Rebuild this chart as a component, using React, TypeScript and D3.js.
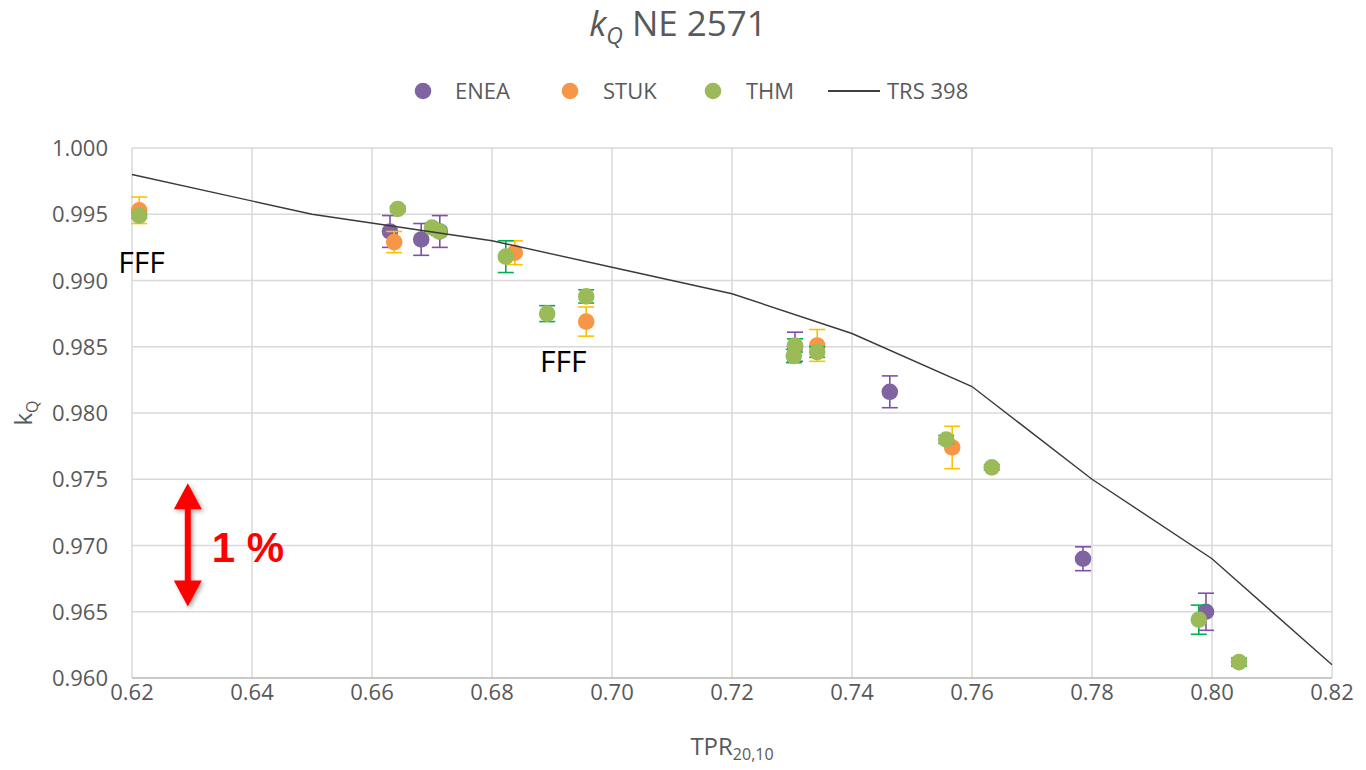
import React from "react";
import * as d3 from "d3";

// TPR20,10 / kQ readings per lab
const eneaX = [0.663, 0.6682, 0.6713, 0.7305, 0.7463, 0.7785, 0.799];
const eneaY = [0.9937, 0.9931, 0.9937, 0.985, 0.9816, 0.969, 0.965];
const eneaErr = [0.0012, 0.0012, 0.0012, 0.0011, 0.0012, 0.0009, 0.0014];

const stukX = [0.6212, 0.6637, 0.6838, 0.6957, 0.7342, 0.7567];
const stukY = [0.9953, 0.9929, 0.9921, 0.9869, 0.9851, 0.9774];
const stukErr = [0.001, 0.0008, 0.0009, 0.0011, 0.0012, 0.0016];

const thmX = [0.6212, 0.6643, 0.67, 0.6712, 0.6823, 0.6892, 0.6957, 0.7305, 0.7303, 0.7342, 0.7557, 0.7633, 0.7978, 0.8045];
const thmY = [0.9949, 0.9954, 0.994, 0.9937, 0.9918, 0.9875, 0.9888, 0.9851, 0.9843, 0.9846, 0.978, 0.9759, 0.9644, 0.9612];
const thmErr = [0.0002, 0.0002, 0.0003, 0.0003, 0.0012, 0.0006, 0.0005, 0.0005, 0.0005, 0.0004, 0.0003, 0.0002, 0.0011, 0.0003];

// TRS 398 reference curve
const trsX = [0.62, 0.65, 0.68, 0.7, 0.72, 0.74, 0.76, 0.78, 0.8, 0.82];
const trsY = [0.998, 0.995, 0.993, 0.991, 0.989, 0.986, 0.982, 0.975, 0.969, 0.961];

const xTicks = [0.62, 0.64, 0.66, 0.68, 0.7, 0.72, 0.74, 0.76, 0.78, 0.8, 0.82];
const yTicks = [0.96, 0.965, 0.97, 0.975, 0.98, 0.985, 0.99, 0.995, 1.0];

// annotations (data units)
const fffLabels = [
  { x: 0.6177, y: 0.9906 },
  { x: 0.688, y: 0.9831 },
];
const arrowX = 0.6293;
const arrowTop = 0.9747;
const arrowBottom = 0.9654;

const series = [
  { name: "ENEA", xs: eneaX, ys: eneaY, err: eneaErr, fill: "#8064A2", bar: "#7F4FAF" },
  { name: "STUK", xs: stukX, ys: stukY, err: stukErr, fill: "#F79646", bar: "#FFC000" },
  { name: "THM", xs: thmX, ys: thmY, err: thmErr, fill: "#9BBB59", bar: "#00B050" },
];

const W = 1366;
const H = 770;
const left = 132;
const right = 1332;
const top = 148;
const bottom = 678;
const font = "'Open Sans', sans-serif";
const grey = "#595959";

export default function App() {
  const x = d3.scaleLinear().domain([0.62, 0.82]).range([left, right]);
  const y = d3.scaleLinear().domain([0.96, 1.0]).range([bottom, top]);
  const fx = d3.format(".2f");
  const fy = d3.format(".3f");

  const line = d3
    .line<number>()
    .x((d) => x(d))
    .y((_, i) => y(trsY[i]));

  const r = 8.3;
  const cap = 8;

  const ax = x(arrowX);
  const aTop = y(arrowTop);
  const aBot = y(arrowBottom);
  const headH = 26;
  const headW = 14;

  return (
    <svg
      width={W}
      height={H}
      style={{ position: "absolute", left: 0, top: 0, background: "#fff" }}
    >
      <defs>
        <filter id="shadow" x="-50%" y="-20%" width="200%" height="140%">
          <feDropShadow dx="2" dy="2" stdDeviation="2" floodColor="#000" floodOpacity="0.35" />
        </filter>
      </defs>
      <rect width={W} height={H} fill="#fff" />

      {/* title */}
      <text x={678} y={36} textAnchor="middle" fontFamily={font} fontSize={35} fill={grey}>
        <tspan fontStyle="italic">k</tspan>
        <tspan fontStyle="italic" fontSize={23} dy={8}>Q</tspan>
        <tspan dy={-8}> NE 2571</tspan>
      </text>

      {/* legend */}
      <g fontFamily={font} fontSize={22} fill={grey}>
        <circle cx={423} cy={91} r={8.3} fill="#8064A2" />
        <text x={455} y={99}>ENEA</text>
        <circle cx={570} cy={91} r={8.3} fill="#F79646" />
        <text x={603} y={99}>STUK</text>
        <circle cx={713} cy={91} r={8.3} fill="#9BBB59" />
        <text x={746} y={99}>THM</text>
        <line x1={828} x2={880} y1={91} y2={91} stroke="#000" strokeWidth={1.5} />
        <text x={887} y={99}>TRS 398</text>
      </g>

      {/* gridlines */}
      <g stroke="#D9D9D9" strokeWidth={1.5}>
        {yTicks.map((t) => (
          <line key={"gy" + t} x1={left} x2={right} y1={y(t)} y2={y(t)} />
        ))}
        {xTicks.map((t) => (
          <line key={"gx" + t} x1={x(t)} x2={x(t)} y1={top} y2={bottom} />
        ))}
      </g>
      <line x1={left} x2={right} y1={bottom} y2={bottom} stroke="#BFBFBF" strokeWidth={1.5} />

      {/* tick labels */}
      <g fontFamily={font} fontSize={22} fill={grey}>
        {yTicks.map((t) => (
          <text key={"ty" + t} x={108} y={y(t) + 8} textAnchor="end">
            {fy(t)}
          </text>
        ))}
        {xTicks.map((t) => (
          <text key={"tx" + t} x={x(t)} y={bottom + 22} textAnchor="middle">
            {fx(t)}
          </text>
        ))}
      </g>

      {/* axis titles */}
      <text x={732} y={755} textAnchor="middle" fontFamily={font} fontSize={24} fill={grey}>
        TPR
        <tspan fontSize={16} dy={5}>20,10</tspan>
      </text>
      <text
        transform={`translate(32,${(top + bottom) / 2}) rotate(-90)`}
        textAnchor="middle"
        fontFamily={font}
        fontSize={24}
        fill={grey}
      >
        k
        <tspan fontSize={16} dy={6}>Q</tspan>
      </text>

      {/* series: error bars then markers */}
      {series.map((s) => (
        <g key={s.name}>
          {s.xs.map((xv, i) => {
            const cx = x(xv);
            const y1 = y(s.ys[i] + s.err[i]);
            const y2 = y(s.ys[i] - s.err[i]);
            return (
              <g key={"e" + i} stroke={s.bar} strokeWidth={1.6}>
                <line x1={cx} x2={cx} y1={y1} y2={y2} />
                <line x1={cx - cap} x2={cx + cap} y1={y1} y2={y1} />
                <line x1={cx - cap} x2={cx + cap} y1={y2} y2={y2} />
              </g>
            );
          })}
          {s.xs.map((xv, i) => (
            <circle key={"m" + i} cx={x(xv)} cy={y(s.ys[i])} r={r} fill={s.fill} />
          ))}
        </g>
      ))}

      {/* TRS 398 */}
      <path d={line(trsX) || ""} fill="none" stroke="#3A3A3A" strokeWidth={1.4} />

      {/* FFF labels */}
      {fffLabels.map((f, i) => (
        <text key={"f" + i} x={x(f.x)} y={y(f.y)} fontFamily={font} fontSize={30} fill="#000">
          FFF
        </text>
      ))}

      {/* 1 % arrow */}
      <g fill="#FF0000" filter="url(#shadow)">
        <rect x={ax - 3} y={aTop + headH - 2} width={6} height={aBot - aTop - 2 * headH + 4} />
        <path d={`M${ax},${aTop} L${ax + headW},${aTop + headH} L${ax - headW},${aTop + headH} Z`} />
        <path d={`M${ax},${aBot} L${ax + headW},${aBot - headH} L${ax - headW},${aBot - headH} Z`} />
      </g>
      <text
        x={x(0.6333)}
        y={y(0.96875)}
        fontFamily="'Liberation Sans', Arial, sans-serif"
        fontWeight="bold"
        fontSize={42}
        fill="#FF0000"
      >
        1 %
      </text>
    </svg>
  );
}
